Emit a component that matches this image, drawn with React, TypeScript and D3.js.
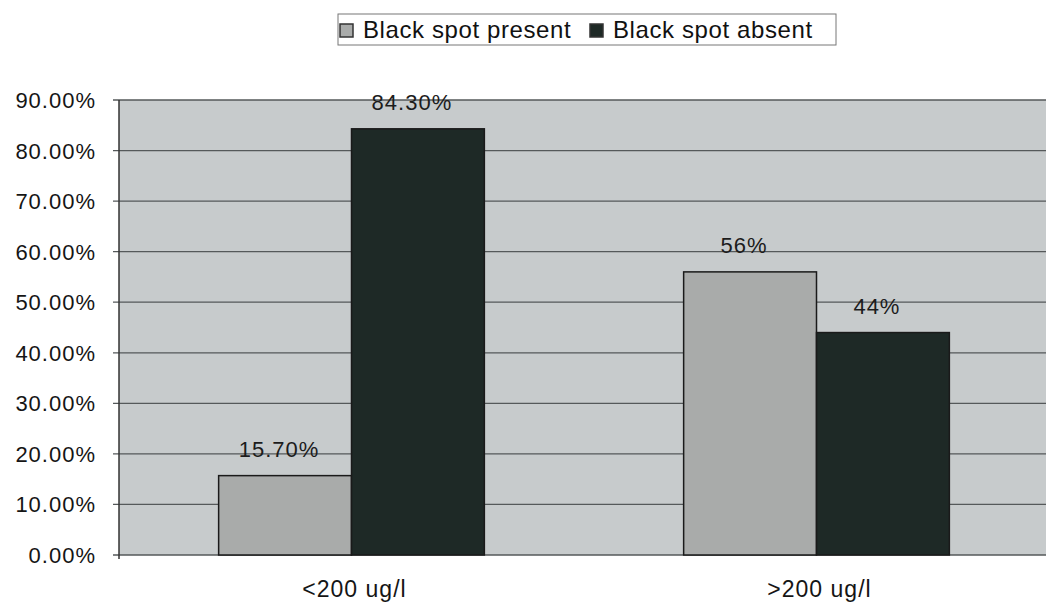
import React from "react";
import * as d3 from "d3";

const categories = ["<200 ug/l", ">200 ug/l"];
const seriesNames = ["Black spot present", "Black spot absent"];
const presentValues = [15.7, 56];
const absentValues = [84.3, 44];
const valueLabels = [
  ["15.70%", "84.30%"],
  ["56%", "44%"],
];
const yTicks = [0, 10, 20, 30, 40, 50, 60, 70, 80, 90];

const W = 1046;
const H = 604;
const margin = { left: 119, right: -3, top: 100, bottom: 49 };
const colors = ["#a9abaa", "#1e2926"];
const font = "'Liberation Sans', Arial, sans-serif";

export default function App() {
  const x0 = d3
    .scaleBand<string>()
    .domain(categories)
    .range([margin.left, W - margin.right]);
  // two bars per group with a 150% gap between groups
  const groupW = x0.bandwidth() / (1 + 1.5 / 2);
  const x1 = d3.scaleBand<string>().domain(seriesNames).range([0, groupW]);
  const y = d3
    .scaleLinear()
    .domain([0, 90])
    .range([H - margin.bottom, margin.top]);

  const rows = categories.map((c, i) => ({
    cat: c,
    vals: [presentValues[i], absentValues[i]],
    labels: valueLabels[i],
  }));

  const groupOffset = (x0.bandwidth() - groupW) / 2;

  return (
    <svg
      width={W}
      height={H}
      style={{ position: "absolute", left: 0, top: 0, background: "#fff" }}
      fontFamily={font}
    >
      {/* plot area */}
      <rect
        x={margin.left}
        y={margin.top}
        width={W - margin.right - margin.left}
        height={y(0) - margin.top}
        fill="#c7cbcc"
      />
      {/* gridlines */}
      {yTicks.map((t) => (
        <line
          key={t}
          x1={margin.left - 6}
          x2={W}
          y1={y(t)}
          y2={y(t)}
          stroke="#55595a"
          strokeWidth={1.3}
        />
      ))}
      {/* bars */}
      {rows.map((r) => (
        <g key={r.cat} transform={`translate(${x0(r.cat)! + groupOffset},0)`}>
          {r.vals.map((v, j) => (
            <rect
              key={j}
              x={x1(seriesNames[j])}
              y={y(v)}
              width={x1.bandwidth()}
              height={y(0) - y(v)}
              fill={colors[j]}
              stroke="#1a1a1a"
              strokeWidth={1.5}
            />
          ))}
          {r.vals.map((v, j) => (
            <text
              key={"l" + j}
              x={x1(seriesNames[j])! + x1.bandwidth() / 2 - 6}
              y={y(v) - 19}
              textAnchor="middle"
              fontSize={22}
              letterSpacing={1}
              fill="#1c1c1c"
            >
              {r.labels[j]}
            </text>
          ))}
        </g>
      ))}
      {/* y axis */}
      <line
        x1={margin.left}
        x2={margin.left}
        y1={margin.top}
        y2={y(0) + 4}
        stroke="#333"
        strokeWidth={1.5}
      />
      {yTicks.map((t) => (
        <text
          key={"t" + t}
          x={96}
          y={y(t) + 8}
          textAnchor="end"
          fontSize={22}
          letterSpacing={1}
          fill="#151515"
        >
          {t.toFixed(2) + "%"}
        </text>
      ))}
      {/* category labels */}
      {categories.map((c) => (
        <text
          key={c}
          x={x0(c)! + x0.bandwidth() / 2 + 3}
          y={597}
          textAnchor="middle"
          fontSize={23}
          letterSpacing={1}
          fill="#151515"
        >
          {c}
        </text>
      ))}
      {/* legend */}
      <g>
        <rect x={338} y={14} width={498} height={31} fill="#fff" stroke="#777" strokeWidth={1} />
        {seriesNames.map((s, i) => {
          const lx = i === 0 ? 340 : 590;
          return (
            <g key={s}>
              <rect
                x={lx}
                y={24}
                width={13}
                height={13}
                fill={colors[i]}
                stroke="#333"
                strokeWidth={1.5}
              />
              <text
                x={lx + 23}
                y={38}
                fontSize={24}
                letterSpacing={0.6}
                fill="#111"
              >
                {s}
              </text>
            </g>
          );
        })}
      </g>
    </svg>
  );
}
